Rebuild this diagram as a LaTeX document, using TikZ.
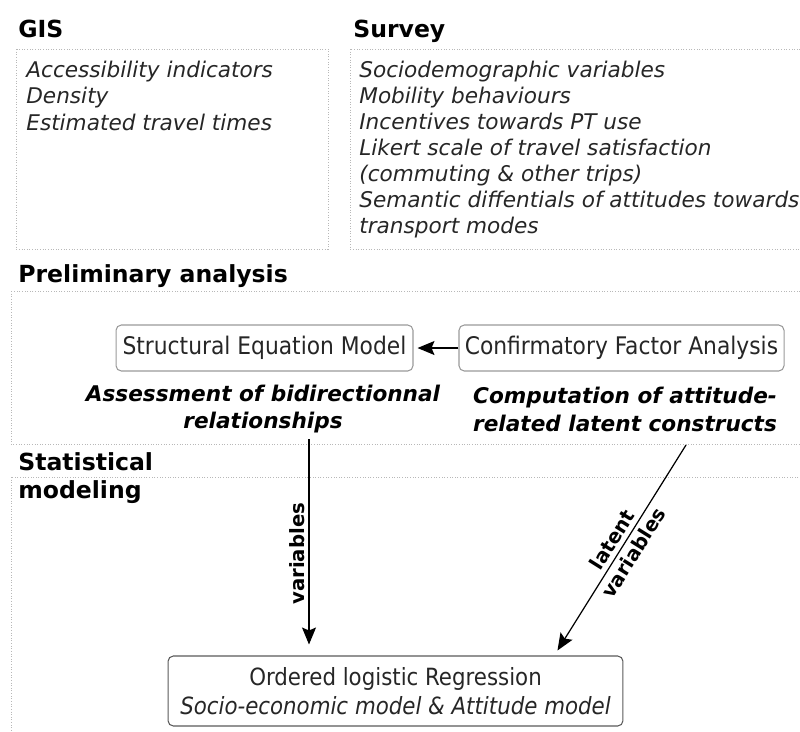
\documentclass[tikz,border=0pt]{standalone}
\usepackage{fontspec}
\setmainfont{DejaVu Sans}
\newfontfamily\condfont{DejaVu Sans Condensed}
\usetikzlibrary{arrows.meta,calc}
\tikzstyle{frame} = [draw=black!28, densely dotted, line width=0.5pt]
\tikzstyle{title} = [anchor=base west, inner sep=0pt, font=\fontsize{13.4}{16}\selectfont\bfseries]
\tikzstyle{item} = [anchor=base west, inner sep=0pt, text=black!85, font=\fontsize{12.3}{15}\selectfont\itshape]
\tikzstyle{method} = [draw=black!40, rounded corners=3pt, line width=0.6pt, text=black!85, font=\condfont\fontsize{13.8}{16.5}\selectfont]
\tikzstyle{note} = [align=center, inner sep=0pt, font=\fontsize{12.3}{15.9}\selectfont\bfseries\itshape]
\tikzstyle{flow} = [draw, line width=0.7pt, -{Stealth[length=0.34cm, width=0.28cm, inset=0.06cm]}]
\tikzstyle{flowlabel} = [inner sep=2pt, font=\fontsize{11.2}{14.2}\selectfont\bfseries]

\begin{document}
\begin{tikzpicture}[x=0.02cm, y=-0.02cm]
    \clip (0,0) rectangle (800,731);

    % frames of the four blocks
    \draw[frame] (16,49) rectangle (328,249);
    \draw[frame] (350,49) rectangle (810,249);
    \draw[frame] (11,291) rectangle (810,444);
    \draw[frame] (11,477) rectangle (810,745);

    \node[title] (gistitle) at (18,37) {GIS};
    \node[title] (surveytitle) at (353,37) {Survey};
    \node[title] (prelimtitle) at (18,282) {Preliminary analysis};
    \node[title] (stattitle) at (18,470) {Statistical};
    \node[title] (modeltitle) at (18,498) {modeling};

    % data sources
    \foreach \i/\txt in {0/Accessibility indicators, 1/Density, 2/Estimated travel times}
        \node[item] (gis\i) at (26,{77+26.5*\i}) {\txt};

    \foreach \i/\txt in {0/Sociodemographic variables, 1/Mobility behaviours,
        2/Incentives towards PT use, 3/Likert scale of travel satisfaction,
        4/(commuting \& other trips), 5/Semantic diffentials of attitudes towards,
        6/transport modes}
        \node[item] (survey\i) at (359,{77+26.1*\i}) {\txt};

    % preliminary analysis
    \node[method, minimum width=5.94cm, minimum height=0.92cm] (sem) at (264.5,348) {Structural Equation Model};
    \node[method, minimum width=6.38cm, minimum height=0.92cm] (cfa) at (621.5,348) {Confirmatory Factor Analysis};
    \node[note] (semnote) at (263,409) {Assessment of bidirectionnal\\relationships};
    \node[note] (cfanote) at (625,409) {Computation of attitude-\\related latent constructs};

    \draw[flow, shorten >=0.08cm] (cfa) -- (sem);

    % statistical modeling
    \node[method, minimum width=9.1cm, minimum height=1.4cm, draw=black!65, align=center,
        font=\condfont\fontsize{13.5}{16.5}\selectfont] (orl) at (395.5,691)
        {Ordered logistic Regression\\{\itshape Socio-economic model \& Attitude model}};

    \coordinate (varstart) at (309,439);
    \coordinate (latstart) at (686,445);
    \coordinate (latend) at (554,656);

    \draw[flow, shorten >=0.22cm] (varstart) -- (orl.north -| varstart)
        node[flowlabel, pos=0.53, rotate=90, anchor=south] {variables};
    \draw[flow, shorten >=0.13cm] (latstart) -- (latend)
        node[flowlabel, pos=0.48, sloped, align=center] {latent\\variables};

\end{tikzpicture}
\end{document}
